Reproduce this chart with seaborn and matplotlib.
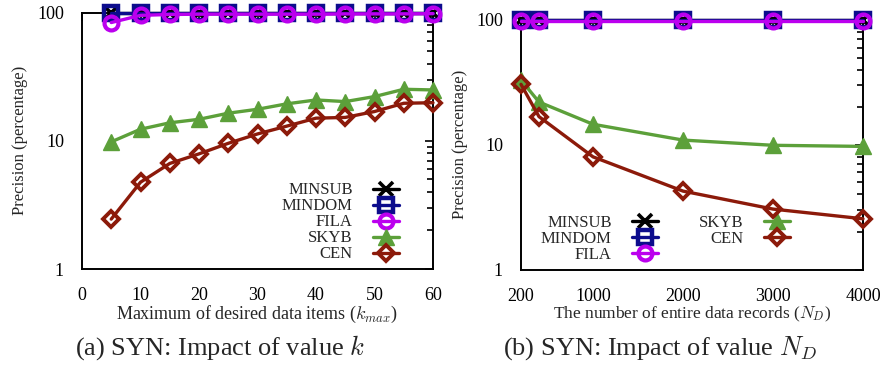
import matplotlib
matplotlib.use("Agg")
import matplotlib.pyplot as plt
import seaborn as sns
import numpy as np
import pandas as pd
from matplotlib.ticker import LogLocator, NullFormatter, FixedLocator

# ---------------- data ----------------
k_values = [5, 10, 15, 20, 25, 30, 35, 40, 45, 50, 55, 60]
k_minsub = [100, 100, 100, 100, 100, 100, 100, 100, 100, 100, 100, 100]
k_mindom = [100, 100, 100, 100, 100, 100, 100, 100, 100, 100, 100, 100]
k_fila = [83.5, 95.0, 96.5, 97.0, 97.0, 97.0, 97.0, 97.0, 97.5, 97.5, 97.5, 98.0]
k_skyb = [9.8, 12.3, 13.8, 14.7, 16.4, 17.6, 19.4, 20.8, 20.2, 22.1, 25.2, 24.9]
k_cen = [2.45, 4.75, 6.65, 7.9, 9.55, 11.3, 13.0, 15.0, 15.2, 16.9, 19.6, 19.8]

n_values = [200, 400, 1000, 2000, 3000, 4000]
n_minsub = [100, 100, 100, 100, 100, 100]
n_mindom = [100, 100, 100, 100, 100, 100]
n_fila = [98.5, 98.5, 98.5, 98.5, 98.5, 98.5]
n_skyb = [33.0, 22.0, 14.6, 10.9, 9.9, 9.7]
n_cen = [30.5, 16.8, 8.0, 4.25, 3.05, 2.55]

k_ticks = [0, 10, 20, 30, 40, 50, 60]
n_ticks = [200, 1000, 2000, 3000, 4000]

series_names = ["MINSUB", "MINDOM", "FILA", "SKYB", "CEN"]

# ---------------- style ----------------
sns.set_theme(style="white")
plt.rcParams["font.family"] = ["Liberation Serif", "DejaVu Serif"]
plt.rcParams["mathtext.fontset"] = "cm"

styles = {
    "MINSUB": dict(color="#000000", marker="x", mfc="none", mec="#000000", ms=10, mew=2.6),
    "MINDOM": dict(color="#0c0c8c", marker="s", mfc="none", mec="#0c0c8c", ms=10, mew=3.2),
    "FILA": dict(color="#bb00ee", marker="o", mfc="none", mec="#bb00ee", ms=10, mew=3.0),
    "SKYB": dict(color="#5ca03a", marker="^", mfc="#5ca03a", mec="#5ca03a", ms=12, mew=1.0),
    "CEN": dict(color="#8c1a0a", marker="D", mfc="none", mec="#8c1a0a", ms=8.5, mew=2.8),
}

fig = plt.figure(figsize=(8.85, 3.70), dpi=100)
axL = fig.add_axes([82 / 885, 1 - 269 / 370, 351 / 885, 256.5 / 370])
axR = fig.add_axes([521 / 885, 1 - 269.5 / 370, 342 / 885, 249.5 / 370])

left_data = dict(zip(series_names, [k_minsub, k_mindom, k_fila, k_skyb, k_cen]))
right_data = dict(zip(series_names, [n_minsub, n_mindom, n_fila, n_skyb, n_cen]))

for ax, xs, data in [(axL, k_values, left_data), (axR, n_values, right_data)]:
    for i, name in enumerate(series_names):
        st = styles[name]
        sns.lineplot(x=xs, y=data[name], ax=ax, label=name, color=st["color"],
                     marker=st["marker"], markerfacecolor=st["mfc"],
                     markeredgecolor=st["mec"], markersize=st["ms"],
                     markeredgewidth=st["mew"], linewidth=2.4, clip_on=False,
                     zorder=3 + i)

def style_axis(ax, xlim, xticks):
    ax.set_yscale("log")
    ax.set_ylim(1, 100)
    ax.set_xlim(*xlim)
    ax.xaxis.set_major_locator(FixedLocator(xticks))
    ax.set_xticklabels([str(t) for t in xticks])
    ax.yaxis.set_major_locator(FixedLocator([1, 10, 100]))
    ax.set_yticklabels(["1", "10", "100"])
    ax.yaxis.set_minor_locator(LogLocator(base=10, subs=np.arange(2, 10)))
    ax.yaxis.set_minor_formatter(NullFormatter())
    ax.tick_params(axis="both", which="both", direction="in", top=True, right=True,
                   colors="black", labelsize=13)
    ax.tick_params(axis="y", which="major", length=6, width=1.2, pad=13)
    ax.tick_params(axis="y", which="minor", length=4, width=1.2)
    ax.tick_params(axis="x", which="major", length=6, width=1.2, pad=13)
    for sp in ax.spines.values():
        sp.set_color("black")
        sp.set_linewidth(1.4)
    ax.set_ylabel("Precision (percentage)", fontsize=12)

style_axis(axL, (0, 60), k_ticks)
style_axis(axR, (200, 4000), n_ticks)
axL.yaxis.set_label_coords(-0.153, 0.5)
axR.yaxis.set_label_coords(-0.155, 0.5)

axL.set_xlabel(r"Maximum of desired data items ($k_{max}$)", fontsize=13)
axL.xaxis.set_label_coords(0.5, -0.135)
axR.set_xlabel(r"The number of entire data records ($N_D$)", fontsize=12.5)
axR.xaxis.set_label_coords(0.5, -0.14)

legL = axL.legend(loc="lower right", bbox_to_anchor=(0.937, -0.02), frameon=False,
                  markerfirst=False, fontsize=12, handlelength=1.6,
                  handletextpad=1.2, labelspacing=0.0, borderpad=0.2)
legR = axR.legend(loc="lower left", bbox_to_anchor=(0.024, -0.022), frameon=False,
                  markerfirst=False, fontsize=12, handlelength=1.6, ncol=2,
                  handletextpad=1.2, labelspacing=0.0, columnspacing=2.45,
                  borderpad=0.2)

fig.text(220 / 885, 1 - 348 / 370, r"(a) SYN: Impact of value $k$", ha="center",
         va="center", fontsize=19)
fig.text(660 / 885, 1 - 348 / 370, r"(b) SYN: Impact of value $N_D$", ha="center",
         va="center", fontsize=19)

fig.savefig("out.png", dpi=100)
